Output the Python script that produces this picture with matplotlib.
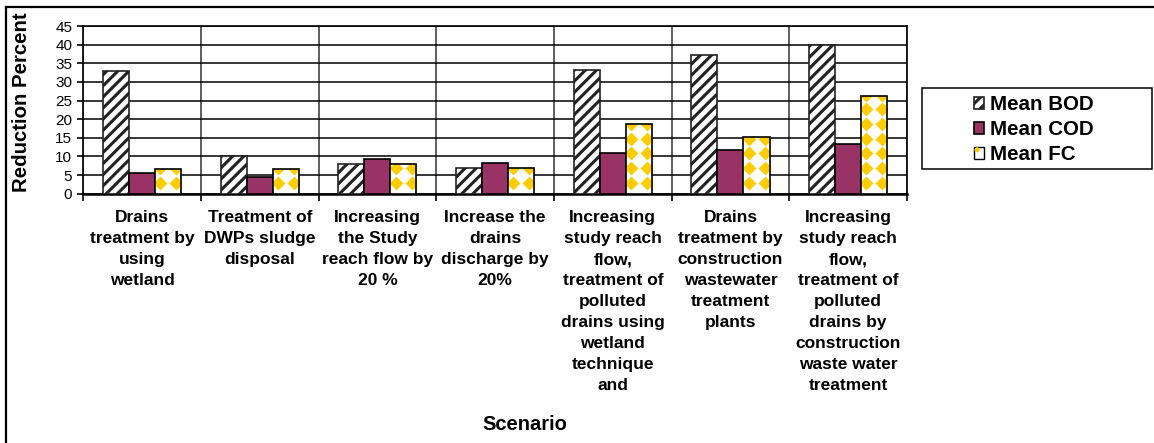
import numpy as np
import matplotlib
matplotlib.use("Agg")
import matplotlib.pyplot as plt
from matplotlib.patches import Patch, Rectangle, Polygon
from matplotlib.lines import Line2D
from matplotlib.legend_handler import HandlerBase

plt.rcParams['font.family'] = ['Liberation Sans', 'DejaVu Sans']
plt.rcParams['hatch.linewidth'] = 2.2

categories = [
    "Drains\ntreatment by\nusing\nwetland",
    "Treatment of\nDWPs sludge\ndisposal",
    "Increasing\nthe Study\nreach flow by\n20 %",
    "Increase the\ndrains\ndischarge by\n20%",
    "Increasing\nstudy reach\nflow,\ntreatment of\npolluted\ndrains using\nwetland\ntechnique\nand",
    "Drains\ntreatment by\nconstruction\nwastewater\ntreatment\nplants",
    "Increasing\nstudy reach\nflow,\ntreatment of\npolluted\ndrains by\nconstruction\nwaste water\ntreatment",
]
series_names = ["Mean BOD", "Mean COD", "Mean FC"]
mean_bod = [33.0, 10.0, 8.0, 6.8, 33.3, 37.2, 40.0]
mean_cod = [5.6, 4.6, 9.3, 8.2, 11.0, 11.7, 13.4]
mean_fc = [6.6, 6.6, 7.9, 7.0, 18.7, 15.3, 26.3]
y_ticks = [0, 5, 10, 15, 20, 25, 30, 35, 40, 45]

W, H = 1154, 443
fig = plt.figure(figsize=(W / 100, H / 100), dpi=100)
ax = fig.add_axes([83.3 / W, 1 - 193.7 / H, (907 - 83.3) / W, (193.7 - 26) / H])

x = np.arange(len(categories))
bw = 0.221
cod_color = "#993366"
fc_yellow = "#FFCC00"

b1 = ax.bar(x - bw, mean_bod, bw, facecolor="white", edgecolor="#222222",
            hatch="///", linewidth=1.2, zorder=3)
b2 = ax.bar(x, mean_cod, bw, facecolor=cod_color, edgecolor="black",
            linewidth=1.2, zorder=3)
b3 = ax.bar(x + bw, mean_fc, bw, facecolor="white", edgecolor="none",
            linewidth=0, zorder=3)

# diamond texture for FC bars, clipped to each bar
row_step = 3.95
for rect in b3:
    x0, w = rect.get_x(), rect.get_width()
    h = rect.get_height()
    cols = np.array([x0 + 0.2 * w, x0 + 0.82 * w])
    rows = np.arange(2.9, h + row_step, row_step)
    CX, CY = np.meshgrid(cols, rows)
    sc = ax.scatter(CX.ravel(), CY.ravel(), marker="D", s=50, color=fc_yellow,
                    linewidths=0, zorder=3.5)
    sc.set_clip_path(rect)
ax.bar(x + bw, mean_fc, bw, fill=False, edgecolor="black", linewidth=1.2, zorder=4)

ax.set_xlim(-0.5, len(categories) - 0.5)
ax.set_ylim(0, 45)
ax.set_yticks(y_ticks)
ax.set_yticklabels([str(v) for v in y_ticks], fontsize=11)
ax.set_xticks(x)
ax.set_xticklabels(categories, fontsize=12.5, fontweight="bold", linespacing=1.5)
ax.set_xticks(np.arange(-0.5, len(categories)), minor=True)
ax.tick_params(axis="x", which="major", length=0, pad=12)
ax.tick_params(axis="x", which="minor", length=5, width=1.2, direction="out")
ax.tick_params(axis="y", length=4, width=1.2, direction="out", pad=4)
ax.grid(axis="y", which="major", color="black", linewidth=1.1, zorder=1)
ax.grid(axis="x", which="minor", color="#333333", linewidth=1.1, zorder=1)
ax.set_axisbelow(True)
for s in ax.spines.values():
    s.set_linewidth(1.2)
ax.spines["bottom"].set_linewidth(1.8)

fig.text(22 / W, 1 - 102 / H, "Reduction Percent", rotation=90, ha="center",
         va="center", fontsize=14.7, fontweight="bold")
fig.text(525 / W, 1 - 425 / H, "Scenario", ha="center", va="center",
         fontsize=14.5, fontweight="bold")

# outer chart border (top and left visible)
fig.add_artist(Line2D([6 / W, 1], [1 - 7 / H, 1 - 7 / H], color="black", lw=1.6,
                      transform=fig.transFigure))
fig.add_artist(Line2D([6 / W, 6 / W], [0, 1 - 7 / H], color="black", lw=1.6,
                      transform=fig.transFigure))

# legend box
fig.add_artist(Rectangle((922 / W, 1 - 169 / H), (1152 - 922) / W, (169 - 88) / H,
                         transform=fig.transFigure, facecolor="white",
                         edgecolor="black", lw=1.1, zorder=0))


class FCHandler(HandlerBase):
    def create_artists(self, legend, orig_handle, xdescent, ydescent, width,
                       height, fontsize, trans):
        r = Rectangle((-xdescent, -ydescent), width, height, facecolor="white",
                      edgecolor="black", lw=1, transform=trans)
        cx, cy = -xdescent + 0.3 * width, -ydescent + 0.75 * height
        d = 0.3 * width
        p = Polygon([[cx - d, cy], [cx, cy + d], [cx + d, cy], [cx, cy - d]],
                    closed=True, facecolor=fc_yellow, edgecolor="none",
                    transform=trans)
        return [r, p]


fc_handle = Patch(facecolor="white", edgecolor="black")
leg = fig.legend([b1, b2, fc_handle], series_names, loc="upper left",
                 bbox_to_anchor=(974 / W, 1 - 95.5 / H), frameon=False,
                 borderpad=0, borderaxespad=0, handlelength=0.5, handleheight=0.5,
                 handletextpad=0.3, labelspacing=0.28,
                 prop={"size": 14.8, "weight": "bold"},
                 handler_map={fc_handle: FCHandler()})

fig.savefig("out.png", dpi=100)
